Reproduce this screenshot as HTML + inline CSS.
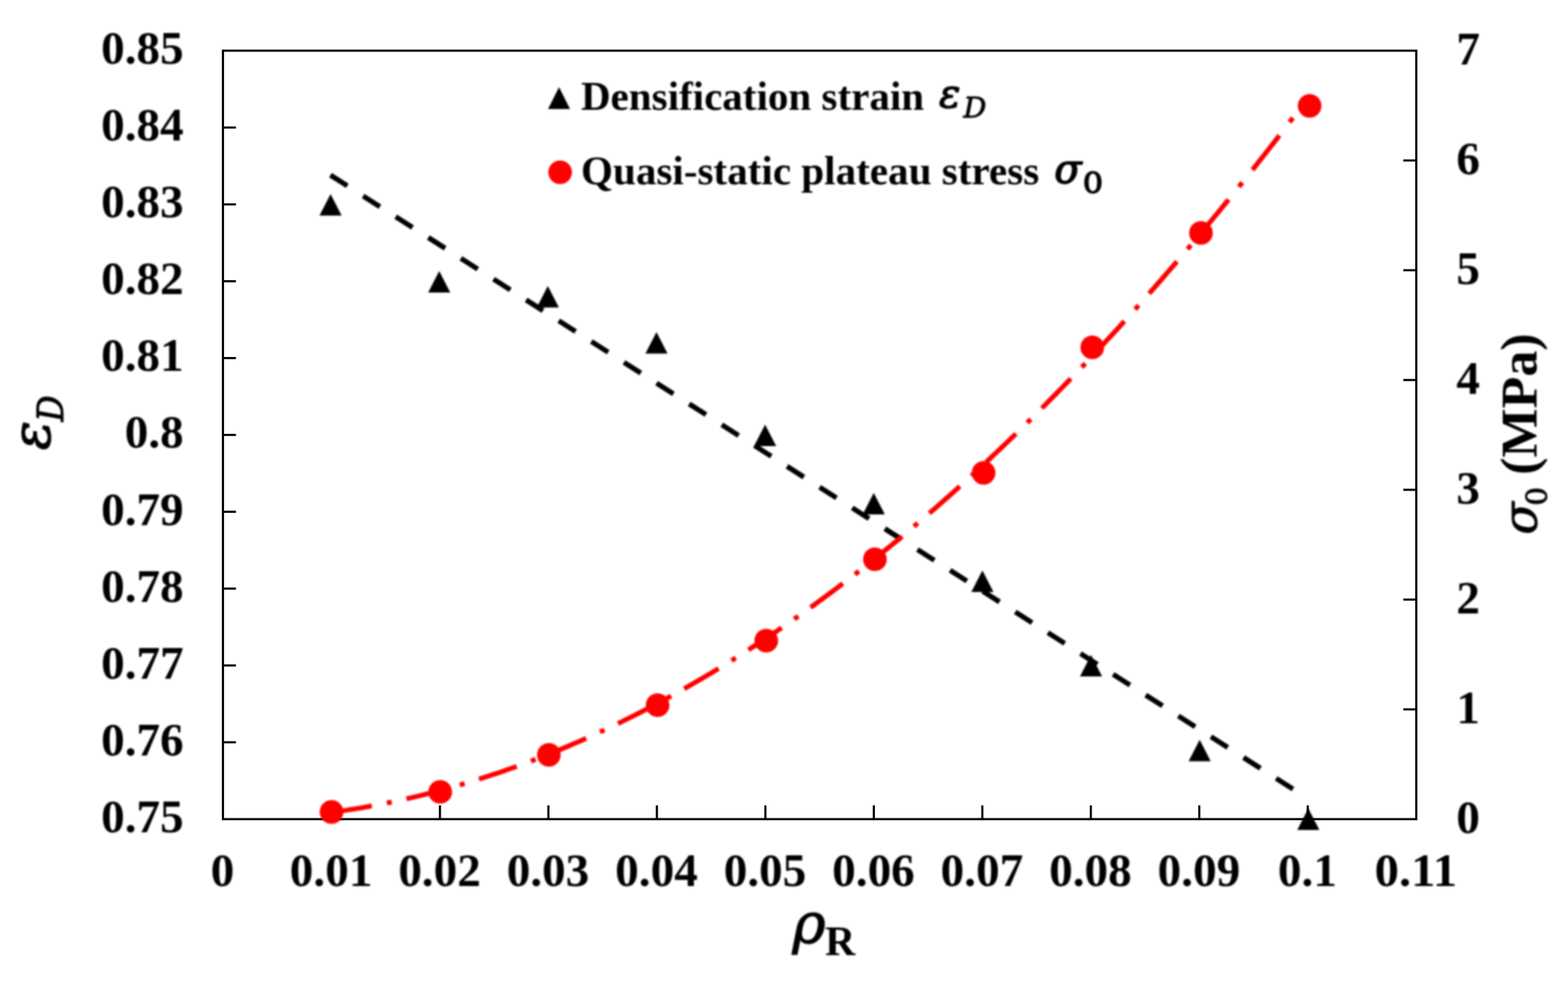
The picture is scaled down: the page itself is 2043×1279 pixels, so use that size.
<!DOCTYPE html>
<html lang="en"><head><meta charset="utf-8"><title>Densification strain and quasi-static plateau stress vs relative density</title>
<style>
html,body{margin:0;padding:0;background:#fff;}
body{width:2043px;height:1279px;overflow:hidden;}
svg{display:block;}
text{font-family:"Liberation Serif", "DejaVu Serif", serif;fill:#000;}
.m{font-family:"DejaVu Serif", "Liberation Serif", serif;}
.b{font-weight:bold;}
.i{font-style:italic;}
.n{font-weight:normal;stroke:#000;stroke-linejoin:round;}
.tk{font-weight:bold;font-size:62px;}
.lg{font-weight:bold;font-size:52px;}
</style></head><body>
<svg width="2043" height="1279" viewBox="0 0 2043 1279">
<defs><filter id="soft" x="0" y="0" width="2043" height="1279" filterUnits="userSpaceOnUse" color-interpolation-filters="sRGB"><feGaussianBlur stdDeviation="0.8"/></filter></defs>
<rect x="0" y="0" width="2043" height="1279" fill="#fff"/>

<g fill="none" stroke="#000" stroke-width="2.8" stroke-linecap="butt">
<rect x="290.5" y="66.0" width="1554.80" height="1000.90"/>
<line x1="290.5" y1="966.81" x2="307.4" y2="966.81"/>
<line x1="290.5" y1="866.72" x2="307.4" y2="866.72"/>
<line x1="290.5" y1="766.63" x2="307.4" y2="766.63"/>
<line x1="290.5" y1="666.54" x2="307.4" y2="666.54"/>
<line x1="290.5" y1="566.45" x2="307.4" y2="566.45"/>
<line x1="290.5" y1="466.36" x2="307.4" y2="466.36"/>
<line x1="290.5" y1="366.27" x2="307.4" y2="366.27"/>
<line x1="290.5" y1="266.18" x2="307.4" y2="266.18"/>
<line x1="290.5" y1="166.09" x2="307.4" y2="166.09"/>
<line x1="431.85" y1="1066.9" x2="431.85" y2="1049.0"/>
<line x1="573.19" y1="1066.9" x2="573.19" y2="1049.0"/>
<line x1="714.54" y1="1066.9" x2="714.54" y2="1049.0"/>
<line x1="855.88" y1="1066.9" x2="855.88" y2="1049.0"/>
<line x1="997.23" y1="1066.9" x2="997.23" y2="1049.0"/>
<line x1="1138.57" y1="1066.9" x2="1138.57" y2="1049.0"/>
<line x1="1279.92" y1="1066.9" x2="1279.92" y2="1049.0"/>
<line x1="1421.26" y1="1066.9" x2="1421.26" y2="1049.0"/>
<line x1="1562.61" y1="1066.9" x2="1562.61" y2="1049.0"/>
<line x1="1703.95" y1="1066.9" x2="1703.95" y2="1049.0"/>
<line x1="1845.3" y1="923.91" x2="1828.3999999999999" y2="923.91"/>
<line x1="1845.3" y1="780.93" x2="1828.3999999999999" y2="780.93"/>
<line x1="1845.3" y1="637.94" x2="1828.3999999999999" y2="637.94"/>
<line x1="1845.3" y1="494.96" x2="1828.3999999999999" y2="494.96"/>
<line x1="1845.3" y1="351.97" x2="1828.3999999999999" y2="351.97"/>
<line x1="1845.3" y1="208.99" x2="1828.3999999999999" y2="208.99"/>
</g>
<g filter="url(#soft)">
<g class="tk">
<text x="239.3" y="1083.90" text-anchor="end" textLength="107.6" lengthAdjust="spacingAndGlyphs">0.75</text>
<text x="239.3" y="983.81" text-anchor="end" textLength="107.6" lengthAdjust="spacingAndGlyphs">0.76</text>
<text x="239.3" y="883.72" text-anchor="end" textLength="107.6" lengthAdjust="spacingAndGlyphs">0.77</text>
<text x="239.3" y="783.63" text-anchor="end" textLength="107.6" lengthAdjust="spacingAndGlyphs">0.78</text>
<text x="239.3" y="683.54" text-anchor="end" textLength="107.6" lengthAdjust="spacingAndGlyphs">0.79</text>
<text x="239.3" y="583.45" text-anchor="end" textLength="76.9" lengthAdjust="spacingAndGlyphs">0.8</text>
<text x="239.3" y="483.36" text-anchor="end" textLength="107.6" lengthAdjust="spacingAndGlyphs">0.81</text>
<text x="239.3" y="383.27" text-anchor="end" textLength="107.6" lengthAdjust="spacingAndGlyphs">0.82</text>
<text x="239.3" y="283.18" text-anchor="end" textLength="107.6" lengthAdjust="spacingAndGlyphs">0.83</text>
<text x="239.3" y="183.09" text-anchor="end" textLength="107.6" lengthAdjust="spacingAndGlyphs">0.84</text>
<text x="239.3" y="83.00" text-anchor="end" textLength="107.6" lengthAdjust="spacingAndGlyphs">0.85</text>
<text x="290.00" y="1154.3" text-anchor="middle" textLength="30.8" lengthAdjust="spacingAndGlyphs">0</text>
<text x="431.35" y="1154.3" text-anchor="middle" textLength="107.6" lengthAdjust="spacingAndGlyphs">0.01</text>
<text x="572.69" y="1154.3" text-anchor="middle" textLength="107.6" lengthAdjust="spacingAndGlyphs">0.02</text>
<text x="714.04" y="1154.3" text-anchor="middle" textLength="107.6" lengthAdjust="spacingAndGlyphs">0.03</text>
<text x="855.38" y="1154.3" text-anchor="middle" textLength="107.6" lengthAdjust="spacingAndGlyphs">0.04</text>
<text x="996.73" y="1154.3" text-anchor="middle" textLength="107.6" lengthAdjust="spacingAndGlyphs">0.05</text>
<text x="1138.07" y="1154.3" text-anchor="middle" textLength="107.6" lengthAdjust="spacingAndGlyphs">0.06</text>
<text x="1279.42" y="1154.3" text-anchor="middle" textLength="107.6" lengthAdjust="spacingAndGlyphs">0.07</text>
<text x="1420.76" y="1154.3" text-anchor="middle" textLength="107.6" lengthAdjust="spacingAndGlyphs">0.08</text>
<text x="1562.11" y="1154.3" text-anchor="middle" textLength="107.6" lengthAdjust="spacingAndGlyphs">0.09</text>
<text x="1703.45" y="1154.3" text-anchor="middle" textLength="76.9" lengthAdjust="spacingAndGlyphs">0.1</text>
<text x="1844.80" y="1154.3" text-anchor="middle" textLength="107.6" lengthAdjust="spacingAndGlyphs">0.11</text>
<text x="1897.5" y="1084.50" text-anchor="start" textLength="30.8" lengthAdjust="spacingAndGlyphs">0</text>
<text x="1897.5" y="941.51" text-anchor="start" textLength="30.8" lengthAdjust="spacingAndGlyphs">1</text>
<text x="1897.5" y="798.53" text-anchor="start" textLength="30.8" lengthAdjust="spacingAndGlyphs">2</text>
<text x="1897.5" y="655.54" text-anchor="start" textLength="30.8" lengthAdjust="spacingAndGlyphs">3</text>
<text x="1897.5" y="512.56" text-anchor="start" textLength="30.8" lengthAdjust="spacingAndGlyphs">4</text>
<text x="1897.5" y="369.57" text-anchor="start" textLength="30.8" lengthAdjust="spacingAndGlyphs">5</text>
<text x="1897.5" y="226.59" text-anchor="start" textLength="30.8" lengthAdjust="spacingAndGlyphs">6</text>
<text x="1897.5" y="83.60" text-anchor="start" textLength="30.8" lengthAdjust="spacingAndGlyphs">7</text>
</g>
<line x1="430.6" y1="228.1" x2="1704.00" y2="1040.02" stroke="#000" stroke-width="6.6" stroke-dasharray="26 24.39" fill="none"/>
<path d="M431.60,1058.12 L438.23,1057.20 L444.85,1056.25 L451.46,1055.25 L458.07,1054.22 L464.67,1053.15 L471.26,1052.03 L477.85,1050.88 L484.43,1049.69 M504.02,1045.90 L510.37,1044.59 M529.56,1040.42 L535.90,1038.96 L542.24,1037.47 L548.56,1035.94 L554.88,1034.38 L561.19,1032.78 L567.48,1031.15 L573.77,1029.48 L580.05,1027.78 M599.18,1022.37 L605.37,1020.55 M624.08,1014.81 L630.26,1012.85 L636.43,1010.85 L642.59,1008.82 L648.74,1006.76 L654.88,1004.66 L661.01,1002.54 L667.12,1000.38 L673.23,998.19 M691.82,991.31 L697.84,989.02 M716.01,981.88 L722.01,979.45 L728.01,977.00 L733.99,974.51 L739.96,972.00 L745.91,969.46 L751.86,966.89 L757.79,964.29 L763.71,961.67 M781.73,953.48 L787.57,950.76 M805.18,942.37 L811.00,939.53 L816.80,936.67 L822.60,933.78 L828.38,930.86 L834.15,927.92 L839.91,924.96 L845.65,921.97 L851.38,918.96 M868.84,909.60 L874.49,906.51 M891.54,897.00 L897.17,893.79 L902.79,890.56 L908.40,887.32 L914.00,884.05 L919.59,880.75 L925.16,877.44 L930.72,874.10 L936.26,870.75 M953.16,860.34 L958.63,856.92 M975.14,846.41 L980.60,842.88 L986.04,839.33 L991.48,835.76 L996.90,832.17 L1002.31,828.56 L1007.70,824.94 L1013.08,821.29 L1018.45,817.63 M1034.82,806.29 L1040.12,802.57 M1056.12,791.17 L1061.41,787.35 L1066.69,783.51 L1071.95,779.65 L1077.21,775.77 L1082.45,771.88 L1087.68,767.97 L1092.90,764.05 L1098.10,760.11 M1113.98,747.93 L1119.12,743.94 M1134.64,731.74 L1139.77,727.65 L1144.90,723.54 L1150.01,719.42 L1155.11,715.29 L1160.20,711.14 L1165.28,706.98 L1170.35,702.80 L1175.40,698.61 M1190.82,685.66 L1195.81,681.43 M1210.89,668.48 L1215.89,664.15 L1220.87,659.80 L1225.85,655.44 L1230.81,651.07 L1235.76,646.68 L1240.70,642.29 L1245.62,637.87 L1250.54,633.45 M1265.55,619.80 L1270.41,615.34 M1285.09,601.71 L1289.96,597.15 L1294.81,592.58 L1299.66,587.99 L1304.49,583.40 L1309.32,578.79 L1314.13,574.17 L1318.93,569.54 L1323.72,564.90 M1338.36,550.59 L1343.10,545.91 M1357.43,531.64 L1362.18,526.87 L1366.92,522.08 L1371.65,517.29 L1376.37,512.48 L1381.08,507.67 L1385.78,502.84 L1390.47,498.00 L1395.15,493.16 M1409.45,478.22 L1414.09,473.33 M1428.10,458.45 L1432.23,454.03 L1436.36,449.59 L1440.47,445.15 L1444.58,440.71 L1448.68,436.25 L1452.78,431.79 L1456.86,427.32 L1460.94,422.85 L1465.01,418.36 M1479.02,402.82 L1483.56,397.73 M1497.29,382.26 L1501.34,377.66 L1505.38,373.05 L1509.42,368.44 L1513.45,363.82 L1517.47,359.19 L1521.49,354.55 L1525.49,349.91 L1529.49,345.27 L1533.48,340.61 M1547.23,324.48 L1551.69,319.20 M1565.17,303.15 L1569.15,298.38 L1573.12,293.60 L1577.09,288.81 L1581.05,284.02 L1585.00,279.22 L1588.94,274.42 L1592.88,269.61 L1596.81,264.79 L1600.74,259.97 M1614.25,243.25 L1618.64,237.79 M1631.90,221.17 L1635.82,216.22 L1639.73,211.27 L1643.64,206.32 L1647.53,201.36 L1651.42,196.39 L1655.31,191.42 L1659.19,186.44 L1663.06,181.46 L1666.92,176.48 M1680.24,159.18 L1684.56,153.53" stroke="#f00" stroke-width="6.3" stroke-linecap="butt" fill="none"/>
<polygon points="430.70,252.70 445.10,280.70 416.30,280.70" fill="#000"/>
<polygon points="572.25,353.10 586.65,381.10 557.85,381.10" fill="#000"/>
<polygon points="713.80,372.60 728.20,400.60 699.40,400.60" fill="#000"/>
<polygon points="855.35,432.60 869.75,460.60 840.95,460.60" fill="#000"/>
<polygon points="996.90,552.90 1011.30,580.90 982.50,580.90" fill="#000"/>
<polygon points="1138.45,641.90 1152.85,669.90 1124.05,669.90" fill="#000"/>
<polygon points="1280.00,743.10 1294.40,771.10 1265.60,771.10" fill="#000"/>
<polygon points="1421.55,853.00 1435.95,881.00 1407.15,881.00" fill="#000"/>
<polygon points="1563.10,963.40 1577.50,991.40 1548.70,991.40" fill="#000"/>
<polygon points="1704.65,1053.10 1719.05,1081.10 1690.25,1081.10" fill="#000"/>
<circle cx="431.97" cy="1057.50" r="15.4" fill="#f00"/>
<circle cx="573.57" cy="1031.40" r="15.4" fill="#f00"/>
<circle cx="715.17" cy="983.10" r="15.4" fill="#f00"/>
<circle cx="856.77" cy="918.40" r="15.4" fill="#f00"/>
<circle cx="998.37" cy="834.40" r="15.4" fill="#f00"/>
<circle cx="1139.97" cy="728.40" r="15.4" fill="#f00"/>
<circle cx="1281.57" cy="615.80" r="15.4" fill="#f00"/>
<circle cx="1423.17" cy="452.40" r="15.4" fill="#f00"/>
<circle cx="1564.77" cy="303.40" r="15.4" fill="#f00"/>
<circle cx="1706.37" cy="137.80" r="15.4" fill="#f00"/>
<polygon points="728.40,113.50 742.70,141.90 714.10,141.90" fill="#000"/>
<circle cx="729.8" cy="224.3" r="15.4" fill="#f00"/>
<text class="lg" x="757" y="143.4"><tspan textLength="447" lengthAdjust="spacingAndGlyphs">Densification strain</tspan> <tspan class="m i n" x="1223.6" y="140.3" font-size="52" stroke-width="1.6">ε</tspan><tspan class="m i n" x="1255.2" y="153" font-size="37.3" stroke-width="1">D</tspan></text>
<text class="lg" x="757" y="239.9"><tspan textLength="597" lengthAdjust="spacingAndGlyphs">Quasi-static plateau stress</tspan> <tspan class="m i n" x="1373.7" y="238.2" font-size="52" stroke-width="1.8">σ</tspan><tspan class="m n" x="1410.8" y="250.5" font-size="36.5" stroke-width="1.4" textLength="26.5" lengthAdjust="spacingAndGlyphs">0</tspan></text>
<text x="1032.6" y="1228.4" font-size="73.5"><tspan class="m i n" stroke-width="1.4">ρ</tspan><tspan class="b" x="1075" y="1243.7" font-size="54.5">R</tspan></text>
<text transform="rotate(-90)" font-size="68.5"><tspan class="m i n" x="-586.2" y="65.2" stroke-width="1.5" textLength="38" lengthAdjust="spacingAndGlyphs">ε</tspan><tspan class="m i n" x="-549.0" y="81.6" font-size="46.5" stroke-width="1.3" textLength="34" lengthAdjust="spacingAndGlyphs">D</tspan></text>
<text transform="rotate(-90)" font-size="67.8"><tspan class="m i n" x="-696.3" y="2002.2" font-size="62" stroke-width="1.2">σ</tspan><tspan class="m n" x="-658.6" y="2015.2" font-size="38" stroke-width="1.1">0</tspan> <tspan class="b" x="-618.6" y="2002.2">(MPa)</tspan></text>
</g>
</svg></body></html>
